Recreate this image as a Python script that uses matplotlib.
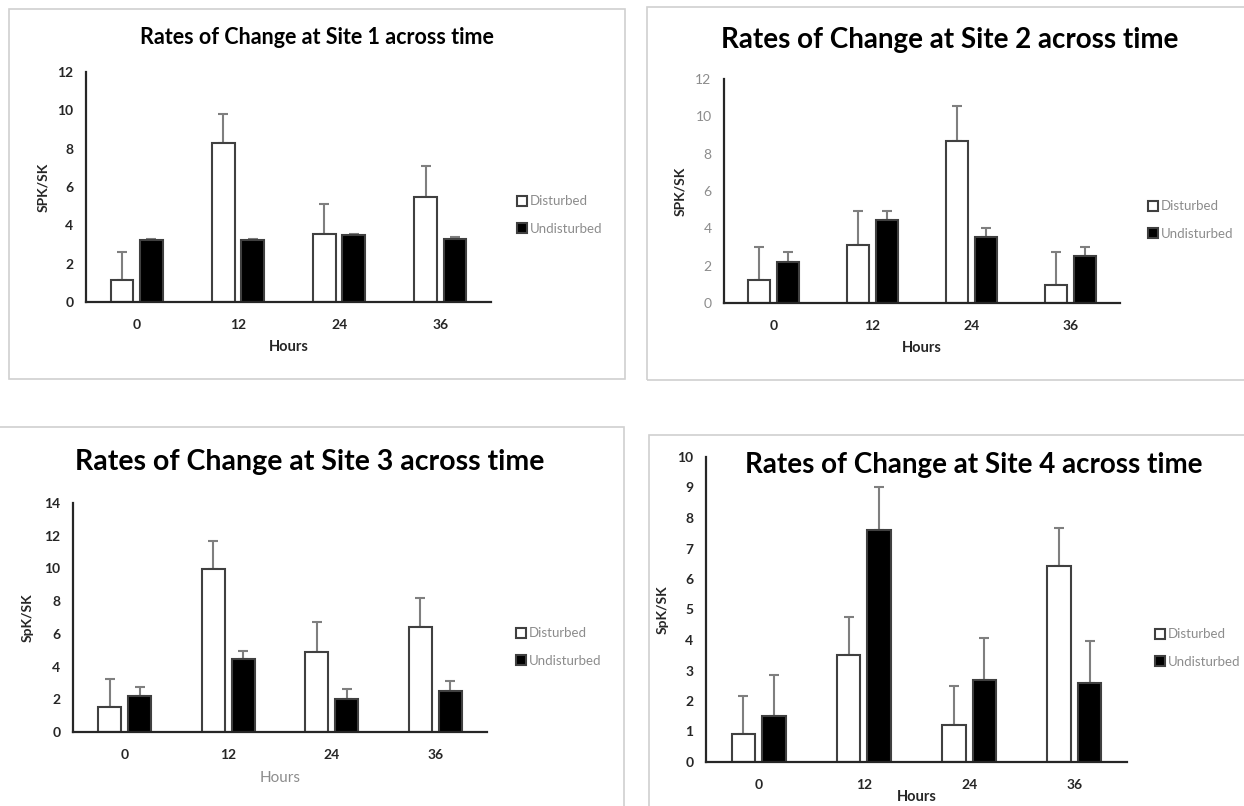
import matplotlib
matplotlib.use("Agg")
import matplotlib.pyplot as plt
from matplotlib.patches import Rectangle

plt.rcParams['font.family'] = ['Lato', 'DejaVu Sans']

hours = ["0", "12", "24", "36"]
series_names = ["Disturbed", "Undisturbed"]

# mean and upper error (top of whisker) per site
site1_disturbed = [1.13, 8.28, 3.57, 5.48]
site1_disturbed_top = [2.61, 9.80, 5.10, 7.08]
site1_undisturbed = [3.22, 3.22, 3.51, 3.30]
site1_undisturbed_top = [3.29, 3.29, 3.57, 3.39]

site2_disturbed = [1.25, 3.11, 8.68, 0.95]
site2_disturbed_top = [3.00, 4.93, 10.54, 2.73]
site2_undisturbed = [2.21, 4.45, 3.52, 2.54]
site2_undisturbed_top = [2.71, 4.93, 4.04, 3.02]

site3_disturbed = [1.52, 9.94, 4.92, 6.42]
site3_disturbed_top = [3.27, 11.65, 6.71, 8.17]
site3_undisturbed = [2.22, 4.45, 2.01, 2.52]
site3_undisturbed_top = [2.78, 4.98, 2.62, 3.13]

site4_disturbed = [0.93, 3.51, 1.21, 6.42]
site4_disturbed_top = [2.17, 4.75, 2.48, 7.67]
site4_undisturbed = [1.52, 7.62, 2.68, 2.59]
site4_undisturbed_top = [2.86, 9.00, 4.05, 3.97]

W, H = 1244, 806
fig = plt.figure(figsize=(W / 100, H / 100), dpi=100)

DARK = "#262626"
EDGE = "#404040"
ERR = "#7f7f7f"
GREY_TXT = "#8c8c8c"


def px_rect(x0, y0, x1, y1):
    # pixel box (top-left origin) -> figure fraction rect
    return [x0 / W, 1 - y1 / H, (x1 - x0) / W, (y1 - y0) / H]


def add_border(x0, y0, x1, y1):
    fig.patches.append(Rectangle((x0 / W, 1 - y1 / H), (x1 - x0) / W, (y1 - y0) / H,
                                 transform=fig.transFigure, fill=False,
                                 edgecolor="#d0d0d0", linewidth=1.2))


def site_panel(rect, dist, dist_top, undist, undist_top, ymax, ystep,
               title, title_xy, title_size, ylabel, ylabel_x,
               ytick_style, xlabel_style, xlabel_y, legend_xy):
    ax = fig.add_axes(px_rect(*rect))
    pos = range(len(hours))
    width = 0.225
    off = 0.145
    xs_d = [p - off for p in pos]
    xs_u = [p + off for p in pos]
    b1 = ax.bar(xs_d, dist, width, color="white", edgecolor=EDGE, linewidth=1.5,
                label=series_names[0], zorder=2)
    b2 = ax.bar(xs_u, undist, width, color="black", edgecolor=EDGE, linewidth=1.5,
                label=series_names[1], zorder=2)
    # upper-only error bars
    for xs, vals, tops in ((xs_d, dist, dist_top), (xs_u, undist, undist_top)):
        ax.errorbar(xs, vals, yerr=[[0] * len(vals), [t - v for t, v in zip(tops, vals)]],
                    fmt="none", ecolor=ERR, elinewidth=1.5, capsize=3.5,
                    capthick=1.5, zorder=1)

    ax.set_xlim(-0.5, len(hours) - 0.5)
    ax.set_ylim(0, ymax)
    ax.set_yticks(range(0, ymax + 1, ystep))
    ax.set_xticks(list(pos))
    ax.set_xticklabels(hours, fontsize=10, fontweight="bold", color=DARK)
    if ytick_style == "light":
        ax.set_yticklabels([str(v) for v in range(0, ymax + 1, ystep)],
                           fontsize=10, color=GREY_TXT)
    else:
        ax.set_yticklabels([str(v) for v in range(0, ymax + 1, ystep)],
                           fontsize=10, fontweight="bold", color=DARK)
    ax.tick_params(length=0, pad=9)
    ax.tick_params(axis="x", pad=12)
    for s in ("top", "right"):
        ax.spines[s].set_visible(False)
    for s in ("left", "bottom"):
        ax.spines[s].set_color(DARK)
        ax.spines[s].set_linewidth(1.6)
    ax.patch.set_alpha(0)

    fig.text(title_xy[0] / W, 1 - title_xy[1] / H, title, ha="center", va="center",
             fontsize=title_size, fontweight="bold", color="black")
    fig.text(ylabel_x / W, 1 - (rect[1] + rect[3]) / 2 / H, ylabel, rotation=90,
             ha="center", va="center", fontsize=10, fontweight="bold", color=DARK)
    hx = (rect[0] + rect[2]) / 2
    if xlabel_style == "light":
        fig.text(hx / W, 1 - xlabel_y / H, "Hours", ha="center", va="center",
                 fontsize=11, color=GREY_TXT)
    else:
        fig.text(hx / W, 1 - xlabel_y / H, "Hours", ha="center", va="center",
                 fontsize=10.5, fontweight="bold", color=DARK)

    leg = ax.legend([b1, b2], series_names, loc="center left",
                    bbox_to_anchor=(legend_xy[0] / W, 1 - legend_xy[1] / H),
                    bbox_transform=fig.transFigure, frameon=False, fontsize=9.5,
                    handlelength=0.75, handleheight=0.75, handletextpad=0.25,
                    labelspacing=1.15, borderpad=0, borderaxespad=0)
    for t in leg.get_texts():
        t.set_color(GREY_TXT)
    return ax


# borders around each chart
add_border(9, 9, 625, 379)
add_border(647, 7, 1260, 380)
add_border(-10, 427, 624, 820)
add_border(649, 435, 1260, 820)

site_panel((86, 72, 491, 302), site1_disturbed, site1_disturbed_top,
           site1_undisturbed, site1_undisturbed_top, 12, 2,
           "Rates of Change at Site 1 across time", (317, 37), 15.5,
           "SPK/SK", 43, "bold", "bold", 347, (517, 215))

site_panel((724, 79, 1120, 303), site2_disturbed, site2_disturbed_top,
           site2_undisturbed, site2_undisturbed_top, 12, 2,
           "Rates of Change at Site 2 across time", (950, 40), 20,
           "SPK/SK", 680, "light", "bold", 348, (1148, 220))

site_panel((73, 503, 487, 732), site3_disturbed, site3_disturbed_top,
           site3_undisturbed, site3_undisturbed_top, 14, 2,
           "Rates of Change at Site 3 across time", (310, 462), 20.5,
           "SpK/SK", 28, "bold", "light", 778, (516, 647))

site_panel((706, 457, 1127, 762), site4_disturbed, site4_disturbed_top,
           site4_undisturbed, site4_undisturbed_top, 10, 1,
           "Rates of Change at Site 4 across time", (974, 465), 20,
           "SpK/SK", 663, "bold", "bold", 797, (1155, 648))

fig.savefig("out.png", dpi=100, facecolor="white")
